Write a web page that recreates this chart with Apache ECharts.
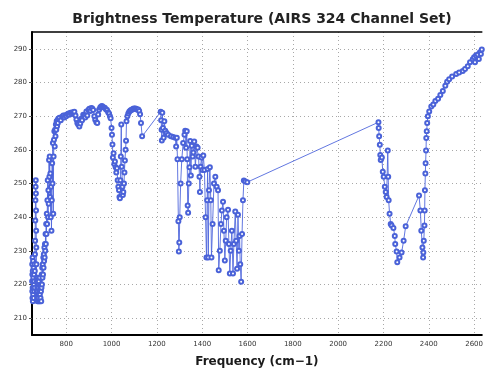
<!DOCTYPE html>
<html>
<head>
<meta charset="utf-8">
<script src="https://cdn.jsdelivr.net/npm/echarts@6/dist/echarts.min.js"></script>
<style>
  html, body { margin: 0; padding: 0; background: #fff; }
  #chart { width: 486px; height: 373px; }
</style>
</head>
<body>
<div id="chart"></div>
<script>
// AIRS channel centre frequencies (cm-1) and brightness temperatures (K)
const frequency = [
  649.6, 650.0, 650.3, 650.6, 651.0, 651.4, 651.9, 652.3, 652.8, 653.2, 653.7, 654.2, 654.8, 655.4, 656.0,
  656.7, 657.3, 658.0, 658.6, 659.3, 660.0, 660.7, 661.4, 662.1, 662.8, 663.5, 664.2, 664.9, 665.6, 666.2,
  666.8, 667.4, 668.0, 668.7, 669.4, 670.1, 670.9, 671.6, 672.4, 673.2, 674.0, 674.8, 675.6, 676.5, 677.3,
  678.2, 679.0, 679.9, 680.8, 681.7, 682.7, 683.6, 684.6, 685.6, 686.6, 687.6, 688.6, 689.7, 690.8, 691.9,
  693.0, 694.1, 695.3, 696.4, 697.6, 698.8, 700.0, 701.2, 702.4, 703.7, 704.9, 706.2, 707.5, 708.8, 710.1,
  711.5, 712.8, 714.2, 715.6, 717.0, 718.4, 719.8, 721.3, 722.7, 724.2, 725.7, 727.2, 728.7, 730.2, 731.8,
  733.3, 734.9, 736.4, 738.0, 739.6, 741.2, 742.8, 744.4, 746.0, 747.6, 749.3, 751.0, 752.7, 754.4, 756.1,
  757.8, 759.5, 761.3, 763.0, 764.8,
  770, 776, 782, 787, 792, 796, 800, 805, 810, 814, 819, 824, 828, 832, 836, 841, 845, 849, 853, 858,
  862, 866, 870, 875, 880, 884, 889, 893, 898, 902, 907, 911, 915, 919, 924, 928, 933, 937, 941, 945,
  950, 954, 958, 962, 967, 971, 976, 980, 985, 989, 993, 996,
  1000, 1002, 1004, 1006, 1009, 1012, 1015, 1018, 1021, 1024, 1027, 1030, 1033, 1035, 1037, 1039, 1041,
  1043, 1045, 1048, 1050, 1052, 1055, 1057, 1059, 1062, 1064, 1066,
  1070, 1074, 1078, 1082, 1086, 1090, 1094, 1098, 1102, 1106, 1110, 1114, 1118, 1122, 1126, 1130, 1135,
  1217, 1219, 1221, 1222, 1224, 1227, 1230, 1233, 1237, 1243, 1250, 1262, 1272, 1281, 1285, 1288, 1291,
  1295, 1297, 1299, 1301, 1305, 1310, 1316, 1322, 1325, 1329, 1332, 1334, 1336, 1338, 1341, 1344, 1347,
  1350, 1354, 1358, 1361, 1365, 1370, 1375, 1380, 1384, 1388, 1390, 1393, 1397, 1401, 1405, 1410, 1415,
  1419, 1422, 1424, 1427, 1430, 1434, 1438, 1441, 1446, 1452, 1458, 1464, 1470, 1473, 1478, 1483, 1487,
  1492, 1496, 1500, 1504, 1508, 1514, 1518, 1522, 1526, 1531, 1536, 1540, 1546, 1550, 1554, 1558, 1562,
  1565, 1568, 1572, 1576, 1580, 1584, 1590, 1599,
  2178, 2179, 2181, 2184, 2186, 2188, 2193, 2197, 2201, 2206, 2210, 2214, 2219, 2221, 2223, 2227, 2232,
  2236, 2244, 2250, 2252, 2258, 2261, 2271, 2280, 2289, 2298,
  2357, 2363, 2367, 2372, 2375, 2376, 2378, 2381, 2382, 2383, 2385, 2386, 2388, 2389, 2391, 2393, 2396,
  2402, 2411, 2420, 2429, 2441, 2451, 2462, 2473, 2481, 2490, 2503, 2521, 2534, 2550, 2560, 2572, 2582,
  2594, 2600, 2604, 2608, 2616, 2621, 2626, 2630, 2634
];

const brightnessTemp = [
  221, 226, 218, 223, 216, 228, 219, 224, 215, 221, 227, 217, 222, 219, 225,
  216, 220, 223, 218, 221, 226, 219, 224, 229, 233, 239, 245, 249, 251, 247,
  242, 236, 231, 226, 222, 218, 221, 216, 219, 215, 218, 222, 217, 215, 219,
  216, 221, 217, 215, 218, 222, 217, 215, 219, 216, 220, 218, 215, 219, 223,
  220, 225, 222, 226, 223, 228, 225, 229, 227, 231, 228, 232, 230, 235, 232,
  238, 235, 241, 238, 245, 251, 240, 248, 244, 257, 252, 258, 246, 253, 240,
  249, 236, 245, 256, 250, 262, 241, 258, 263, 265.5, 261, 266, 264, 267.5, 266,
  268.5, 267, 268.8, 268, 269.2,
  269.5, 268.8, 269.8, 270.2, 269.6, 270.3, 270.0, 270.6, 270.8, 270.4, 271.0, 270.7, 271.2, 270.9, 271.3, 270.2, 269.0, 268.0, 267.5, 266.9,
  267.8, 269.2, 268.8, 270.4, 270.1, 269.6, 271.4, 270.2, 271.8, 272.2, 271.5, 272.4, 272.3, 271.8, 270.0, 268.9, 268.2, 268.0, 270.5, 271.9,
  272.6, 272.9, 273.0, 272.7, 272.6, 272.4, 272.0, 271.8, 271.2, 270.8, 270.0, 269.4,
  266.5, 264.5, 261.6, 257.7, 259.0, 255.8, 256.5, 254.8, 253.3, 254.5, 251.0, 249.0, 248.0, 246.0, 245.6, 251, 258,
  267.5, 255, 249, 246.6, 247.5, 250, 253.3, 256.8, 260, 262.7, 268.5,
  270.0, 270.8, 271.3, 271.6, 271.8, 271.9, 272.1, 272.3, 272.2, 272.3, 272.1, 271.9, 272.0, 271.5, 270.6, 268.0, 264.0,
  271.3, 268.8, 266, 262.8, 271, 266.5, 263.6, 268.5, 265.7, 265, 264.5, 264, 263.8, 263.6, 261, 263.6, 257.2,
  238.8, 229.8, 232.5, 240, 250, 257.2, 262, 264.5, 265.7, 260.6, 265.5, 257.2, 243.5, 241.3, 250, 254.8, 262.6,
  252.4, 261.2, 258, 259.2, 262.5, 255, 261, 260.6, 258, 252, 247.5, 255, 257.7, 254, 258.3, 254, 240,
  228, 245, 254.3, 228, 248, 254.8, 245, 228, 238, 250, 252, 249, 248, 224.2, 230, 238, 242,
  244.6, 236, 227.1, 233, 240, 242.2, 232, 223.3, 230, 236, 223.3, 232, 241.7, 233, 224.7, 240.7, 230,
  234.4, 226, 220.8, 235, 245, 250.9, 250.6, 250.4,
  268.2, 266.5, 264, 261.5, 258.5, 257, 257.7, 253.5, 252, 249, 247.5, 246, 259.8, 252, 245, 241, 238,
  237.5, 236.8, 234.4, 232, 229.8, 226.6, 228, 229.5, 233, 237.3,
  246.4, 242, 236, 231, 228, 229.5, 233, 237.5, 242, 248, 253, 256, 259.8, 263.5, 265.5, 268, 270,
  271.4, 272.9, 273.5, 274.5, 275.2, 276.3, 277.5, 279, 280.2, 281, 281.8, 282.5, 283, 283.4, 284, 284.8, 286,
  286.9, 287.5, 286, 288, 288.3, 287, 289, 288.5, 289.8
];

const xTickValues = [800, 1000, 1200, 1400, 1600, 1800, 2000, 2200, 2400, 2600];
const yTickValues = [210, 220, 230, 240, 250, 260, 270, 280, 290];

const points = frequency.map((f, i) => [f, brightnessTemp[i]]);

const chart = echarts.init(document.getElementById('chart'), null, { renderer: 'canvas' });

const gridLine = { show: true, lineStyle: { color: '#a8a8a8', width: 1, type: [1, 3] } };
const tickFont = { fontFamily: 'DejaVu Sans', fontSize: 7, color: '#333', formatter: v => String(v) };

chart.setOption({
  animation: false,
  backgroundColor: '#ffffff',
  title: {
    text: 'Brightness Temperature (AIRS 324 Channel Set)',
    left: 257,
    textAlign: 'center',
    top: 7,
    textStyle: { fontFamily: 'DejaVu Sans', fontSize: 14, fontWeight: 'bold', color: '#222' }
  },
  grid: { left: 32, right: 0, top: 32, bottom: 32, containLabel: false },
  xAxis: [
    {
      type: 'value',
      min: 649,
      max: 2634,
      name: 'Frequency (cm\u22121)',
      nameLocation: 'middle',
      nameGap: 21,
      nameTextStyle: { fontFamily: 'DejaVu Sans', fontSize: 12, fontWeight: 'bold', color: '#1a1a1a' },
      axisLine: { show: true, onZero: false, lineStyle: { color: '#000', width: 2 } },
      axisTick: { show: false, customValues: xTickValues },
      axisLabel: Object.assign({ customValues: xTickValues, margin: 6 }, tickFont),
      splitLine: gridLine
    },
    {
      type: 'value',
      position: 'top',
      min: 649,
      max: 2634,
      axisLine: { show: true, onZero: false, lineStyle: { color: '#000', width: 1.5 } },
      axisTick: { show: false },
      axisLabel: { show: false },
      splitLine: { show: false }
    }
  ],
  yAxis: {
    type: 'value',
    min: 205,
    max: 295,
    axisLine: { show: true, onZero: false, lineStyle: { color: '#000', width: 2 } },
    axisTick: { show: true, length: 3, customValues: yTickValues, lineStyle: { color: '#555' } },
    axisLabel: Object.assign({ customValues: yTickValues, margin: 5 }, tickFont),
    splitLine: gridLine
  },
  series: [{
    type: 'line',
    xAxisIndex: 0,
    data: points,
    clip: true,
    symbol: 'emptyCircle',
    symbolSize: 4,
    showAllSymbol: true,
    z: 3,
    lineStyle: { color: '#5068dc', width: 0.9 },
    itemStyle: { color: '#4a62d8', borderWidth: 0.9 }
  }]
});
</script>
</body>
</html>
